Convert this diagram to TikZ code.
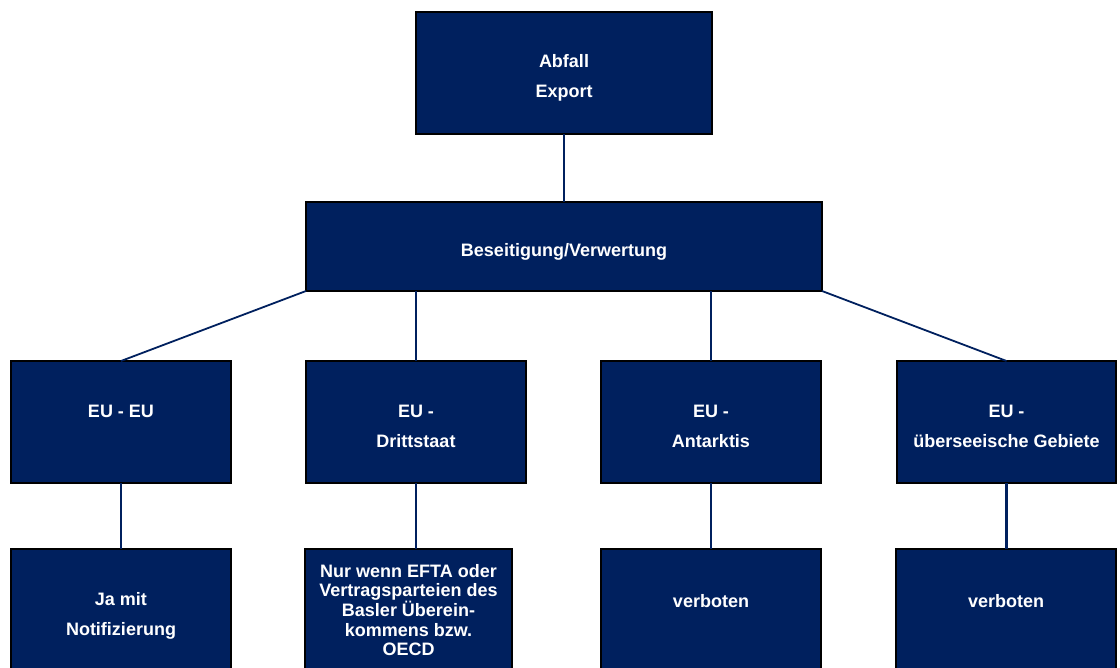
\documentclass[tikz,border=0pt]{standalone}
\usepackage{fontspec}
\setmainfont{Liberation Sans}
\definecolor{navy}{RGB}{0,32,94}
\tikzset{
  box/.style={draw=black, line width=1.8pt, fill=navy, inner sep=0pt, outer sep=0pt},
  lbl/.style={text=white, font=\bfseries\fontsize{18}{30}\selectfont, align=center, inner sep=0pt},
  lbltight/.style={text=white, font=\bfseries\fontsize{18}{19.6}\selectfont, align=center, inner sep=0pt},
  conn/.style={draw=navy, line width=2.6pt},
  diag/.style={draw=navy, line width=1.8pt}
}
\begin{document}
\begin{tikzpicture}[x=1pt,y=-1pt]
\useasboundingbox (0,0) rectangle (1120,668);
\clip (0,0) rectangle (1120,668);
% boxes
\node[box, minimum width=296pt, minimum height=122pt] (top) at (564,73) {};
\node[box, minimum width=516pt, minimum height=89pt] (mid) at (564,246.5) {};
\node[box, minimum width=220pt, minimum height=122pt] (b1) at (121,422) {};
\node[box, minimum width=220pt, minimum height=122pt] (b2) at (416,422) {};
\node[box, minimum width=220pt, minimum height=122pt] (b3) at (711,422) {};
\node[box, minimum width=219pt, minimum height=122pt] (b4) at (1006.5,422) {};
\node[box, minimum width=220pt, minimum height=130pt] (c1) at (121,614) {};
\node[box, minimum width=207pt, minimum height=130pt] (c2) at (408.5,614) {};
\node[box, minimum width=220pt, minimum height=130pt] (c3) at (711,614) {};
\node[box, minimum width=220pt, minimum height=130pt] (c4) at (1006,614) {};
% connectors
\draw[conn] (top.south) -- (mid.north);
\draw[diag] (mid.south west) -- (b1.north);
\draw[conn] (b2.north |- mid.south) -- (b2.north);
\draw[conn] (b3.north |- mid.south) -- (b3.north);
\draw[diag] (mid.south east) -- (b4.north);
\draw[conn] (b1.south) -- (b1.south |- c1.north);
\draw[conn] (b2.south) -- (b2.south |- c2.north);
\draw[conn] (b3.south) -- (b3.south |- c3.north);
\draw[conn] (b4.south) -- (b4.south |- c4.north);
% texts
\node[lbl] (ttop) at (564,78) {Abfall\\Export};
\node[lbl] (tmid) at (564,252) {Beseitigung/Verwertung};
\node[lbl] (tb1) at (121,411) {EU - EU};
\node[lbl] (tb2) at (416,426) {EU -\\Drittstaat};
\node[lbl] (tb3) at (711,426) {EU -\\Antarktis};
\node[lbl] (tb4) at (1006.5,426) {EU -\\überseeische Gebiete};
\node[lbl] (tc1) at (121,616) {Ja mit\\Notifizierung};
\node[lbltight] (tc2) at (408.5,610) {Nur wenn EFTA oder\\Vertragsparteien des\\Basler Überein-\\kommens bzw.\\OECD};
\node[lbl] (tc3) at (711,601) {verboten};
\node[lbl] (tc4) at (1006,601) {verboten};
\end{tikzpicture}
\end{document}
